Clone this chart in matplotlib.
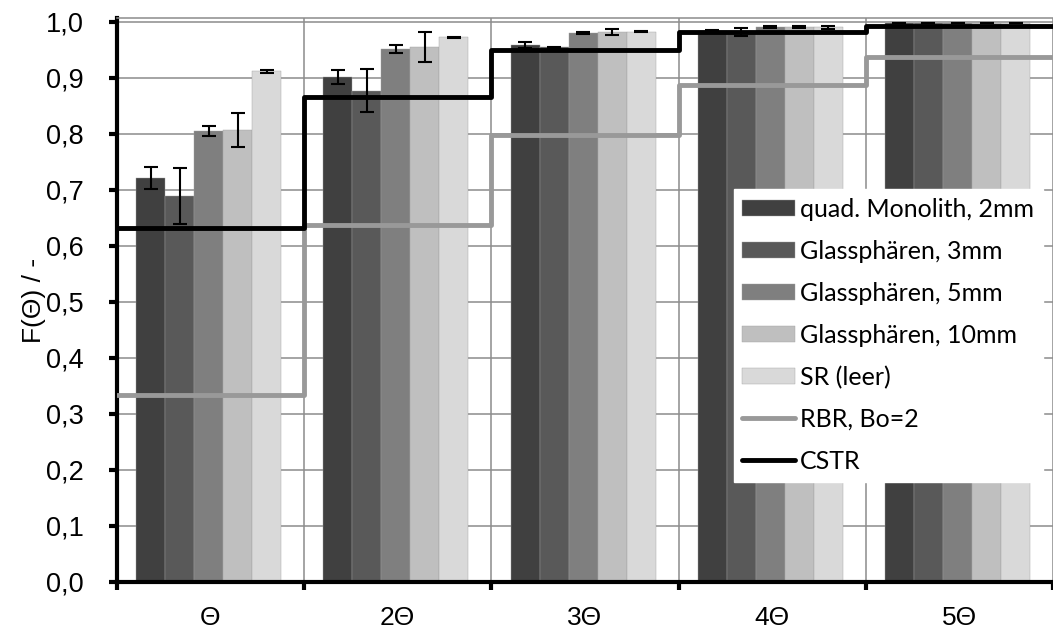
import matplotlib.pyplot as plt
import numpy as np
from matplotlib.ticker import FuncFormatter, FixedLocator

# data
groups = ['Θ', '2Θ', '3Θ', '4Θ', '5Θ']
series = ['quad. Monolith, 2mm', 'Glassphären, 3mm', 'Glassphären, 5mm',
          'Glassphären, 10mm', 'SR (leer)']
mono = [0.721, 0.901, 0.958, 0.984, 0.997]
gs3 = [0.688, 0.877, 0.954, 0.982, 0.997]
gs5 = [0.804, 0.951, 0.980, 0.990, 0.997]
gs10 = [0.807, 0.955, 0.981, 0.990, 0.997]
sr = [0.911, 0.972, 0.982, 0.990, 0.997]
mono_err = [0.020, 0.012, 0.005, 0.001, 0.0]
gs3_err = [0.050, 0.038, 0.001, 0.007, 0.0]
gs5_err = [0.009, 0.007, 0.002, 0.002, 0.0]
gs10_err = [0.030, 0.027, 0.005, 0.002, 0.0]
sr_err = [0.002, 0.001, 0.001, 0.003, 0.0]
rbr = [0.333, 0.637, 0.798, 0.887, 0.937]
cstr = [0.632, 0.865, 0.950, 0.982, 0.993]

colors = ['#404040', '#595959', '#7f7f7f', '#bfbfbf', '#d9d9d9']
vals = [mono, gs3, gs5, gs10, sr]
errs = [mono_err, gs3_err, gs5_err, gs10_err, sr_err]

plt.rcParams['font.family'] = ['Liberation Sans', 'DejaVu Sans']

fig = plt.figure(figsize=(10.53, 6.3), dpi=100)
ax = fig.add_axes([0.111, 0.0762, 0.889, 0.8953])

centers = np.arange(len(groups)) + 0.5
w = 0.155
handles = []
for k in range(5):
    b = ax.bar(centers + (k - 2) * w - 0.01, vals[k], width=w, color=colors[k],
               edgecolor='#a0a0a0', linewidth=0.3, zorder=2, label=series[k])
    ax.errorbar(centers + (k - 2) * w - 0.01, vals[k], yerr=errs[k], fmt='none',
                ecolor='black', elinewidth=1.5, capsize=5, capthick=1.5, zorder=3)
    handles.append(b)

xs = np.arange(len(groups) + 1)
l1, = ax.plot(xs, rbr + [rbr[-1]], drawstyle='steps-post', color='#999999', lw=3.5,
              zorder=4, label='RBR, Bo=2', solid_capstyle='round')
l2, = ax.plot(xs, cstr + [cstr[-1]], drawstyle='steps-post', color='black', lw=3.5,
              zorder=5, label='CSTR', solid_capstyle='round')
handles += [l1, l2]

ax.set_xlim(0, 5)
ax.set_ylim(0, 1.0065)

ax.yaxis.set_major_locator(FixedLocator(np.arange(0, 1.01, 0.1)))
ax.yaxis.set_major_formatter(FuncFormatter(lambda v, p: ('%.1f' % v).replace('.', ',')))
ax.set_xticks(xs)
ax.set_xticklabels([])
ax.set_xticks(centers, minor=True)
ax.set_xticklabels(groups, minor=True)
ax.tick_params(axis='x', which='minor', length=0, labelsize=19, pad=17)
ax.tick_params(axis='x', which='major', length=6, width=3, direction='out')
ax.tick_params(axis='y', length=6, width=3, labelsize=19.5, pad=18)

ax.grid(True, color='#8c8c8c', lw=1.1, zorder=0)
ax.set_axisbelow(True)
ax.spines['top'].set_color('#8c8c8c')
ax.spines['top'].set_linewidth(1.1)
ax.spines['right'].set_visible(False)
ax.spines['left'].set_linewidth(3)
ax.spines['bottom'].set_linewidth(3)

ax.set_ylabel('F(Θ) / -', fontsize=19, labelpad=0)

leg = ax.legend(handles=handles, loc='lower right', bbox_to_anchor=(0.989, 0.178),
                frameon=True, fancybox=False, edgecolor='white', framealpha=1,
                prop={'family': 'Lato', 'size': 18}, handlelength=2.1,
                handleheight=0.6, handletextpad=0.2, labelspacing=0.76,
                borderpad=0.35, borderaxespad=0)
leg.set_zorder(10)

fig.savefig('out.png', dpi=100)
